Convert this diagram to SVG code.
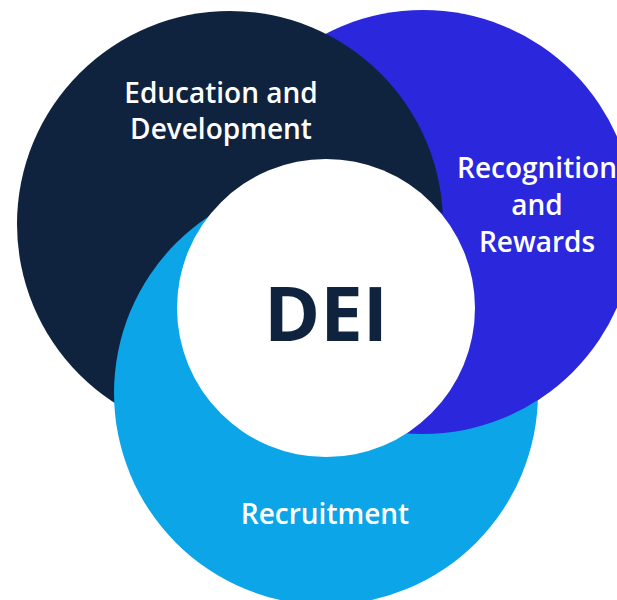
<svg xmlns="http://www.w3.org/2000/svg" width="617" height="600" viewBox="0 0 617 600">
  <defs>
    <clipPath id="clipRecruit">
      <circle cx="326" cy="393" r="214"/>
    </clipPath>
    <style>
      .lbl { font-family: "Open Sans", "Liberation Sans", sans-serif; font-weight: 600; font-size: 28px; fill: #ffffff; text-anchor: middle; }
      .dei { font-family: "Open Sans", "Liberation Sans", sans-serif; font-weight: 700; font-size: 76px; fill: #0f233f; text-anchor: middle; }
    </style>
  </defs>
  <rect width="617" height="600" fill="#ffffff"/>
  <g id="recognition">
    <circle cx="423" cy="222" r="212" fill="#2a27dc"/>
  </g>
  <g id="education">
    <circle cx="230" cy="224" r="213" fill="#0f233f"/>
  </g>
  <g id="recruitment">
    <circle cx="326" cy="393" r="212" fill="#0ba5e8"/>
  </g>
  <g id="recognition-overlap" clip-path="url(#clipRecruit)">
    <circle cx="423" cy="222" r="212" fill="#2a27dc"/>
  </g>
  <g id="dei">
    <circle cx="326" cy="308" r="149" fill="#ffffff"/>
    <text class="dei" x="326" y="341">DEI</text>
  </g>
  <g id="labels">
    <text class="lbl" x="221" y="103">Education and</text>
    <text class="lbl" x="221" y="139">Development</text>
    <text class="lbl" x="537" y="178">Recognition</text>
    <text class="lbl" x="537" y="215">and</text>
    <text class="lbl" x="537" y="252">Rewards</text>
    <text class="lbl" x="325" y="524">Recruitment</text>
  </g>
  <g id="connectors"/>
</svg>
